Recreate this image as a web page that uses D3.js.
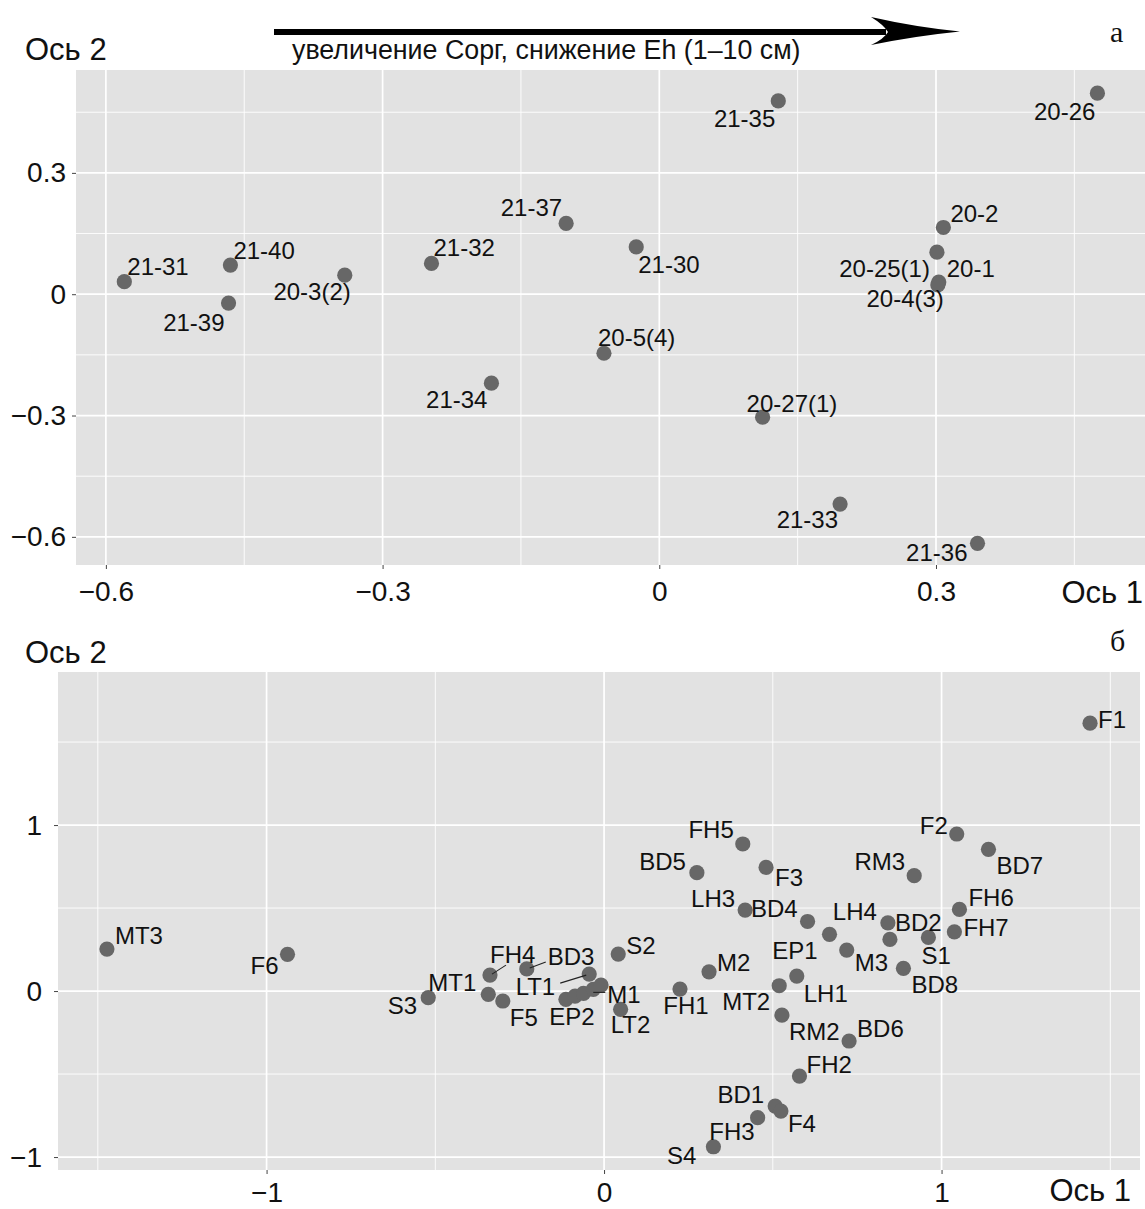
<!DOCTYPE html>
<html><head><meta charset="utf-8">
<script src="https://cdn.jsdelivr.net/npm/d3@7"></script>
<style>
html,body{margin:0;padding:0;background:#fff;}
svg{display:block;font-family:"Liberation Sans",Arial,sans-serif;}
</style></head>
<body>
<svg id="chart" width="1145" height="1209"></svg>
<script>
// ---------- DATA: panel a ----------
const topNames = ["21-35","20-26","21-37","20-2","21-40","21-32","21-31","20-3(2)","21-30","20-25(1)","20-1","21-39","20-4(3)","20-5(4)","21-34","20-27(1)","21-33","21-36"];
const topAxis1 = [0.129,0.475,-0.101,0.308,-0.465,-0.247,-0.580,-0.341,-0.025,0.301,0.303,-0.467,0.302,-0.060,-0.182,0.112,0.196,0.345];
const topAxis2 = [0.478,0.497,0.175,0.165,0.072,0.076,0.031,0.047,0.117,0.104,0.030,-0.022,0.023,-0.146,-0.220,-0.304,-0.519,-0.616];
const topXTicks = [-0.6,-0.3,0,0.3];
const topXMinor = [-0.45,-0.15,0.15,0.45];
const topYTicks = [-0.6,-0.3,0,0.3];
const topYMinor = [-0.45,-0.15,0.15,0.45];

// ---------- DATA: panel б ----------
const botNames = ["F1","FH5","F2","BD5","F3","BD7","RM3","LH3","BD4","EP1","M3","LH4","BD2","S1","FH7","FH6","BD8","MT3","F6","S2","M2","FH1","LH1","MT2","RM2","BD6","FH2","BD1","F4","FH3","S4","S3","MT1","FH4","F5","BD3","LT1","EP2","","","M1","","LT2"];
const botAxis1 = [1.440,0.411,1.045,0.275,0.480,1.139,0.919,0.418,0.603,0.668,0.719,0.841,0.847,0.961,1.038,1.053,0.887,-1.473,-0.938,0.042,0.311,0.225,0.571,0.519,0.527,0.726,0.579,0.507,0.524,0.455,0.324,-0.521,-0.343,-0.338,-0.300,-0.229,-0.044,-0.113,-0.086,-0.061,-0.032,-0.009,0.049];
const botAxis2 = [1.614,0.886,0.946,0.713,0.745,0.854,0.695,0.488,0.419,0.342,0.247,0.411,0.311,0.323,0.357,0.492,0.137,0.253,0.221,0.223,0.116,0.012,0.090,0.032,-0.145,-0.301,-0.512,-0.693,-0.723,-0.763,-0.938,-0.040,-0.020,0.096,-0.060,0.133,0.102,-0.050,-0.030,-0.014,0.010,0.036,-0.110];
const botXTicks = [-1,0,1];
const botXMinor = [-1.5,-0.5,0.5,1.5];
const botYTicks = [-1,0,1];
const botYMinor = [-0.5,0.5,1.5];

// ---------- label placement (repel-like offsets, px) ----------
const topLabelPos = {
 "21-35":[-3,26,"end"],"20-26":[-2,27,"end"],"21-37":[-4,-7,"end"],"20-2":[7,-5,"start"],
 "21-40":[3,-6,"start"],"21-32":[2,-7,"start"],"21-31":[3,-7,"start"],"20-3(2)":[6,25,"end"],
 "21-30":[2,26,"start"],"20-25(1)":[-7,25,"end"],"20-1":[8,-5,"start"],"21-39":[-4,28,"end"],
 "20-4(3)":[6,22,"end"],"20-5(4)":[-6,-7,"start"],"21-34":[-4,25,"end"],"20-27(1)":[-16,-5,"start"],
 "21-33":[-2,24,"end"],"21-36":[-10,18,"end"]
};
const botLabelPos = {
 "F1":[8,5,"start"],"FH5":[-9,-6,"end"],"F2":[-9,0,"end"],"BD5":[-11,-3,"end"],"F3":[9,19,"start"],
 "BD7":[8,25,"start"],"RM3":[-9,-6,"end"],"LH3":[-10,-3,"end"],"BD4":[-10,-4,"end"],"EP1":[-12,25,"end"],
 "M3":[8,21,"start"],"LH4":[-11,-3,"end"],"BD2":[5,-8,"start"],"S1":[-7,27,"start"],"FH7":[9,4,"start"],
 "FH6":[9,-3,"start"],"BD8":[8,25,"start"],"MT3":[8,-5,"start"],"F6":[-9,20,"end"],"S2":[8,0,"start"],
 "M2":[8,-1,"start"],"FH1":[6,25,"middle"],"LH1":[7,26,"start"],"MT2":[-9,24,"end"],"RM2":[7,25,"start"],
 "BD6":[8,-4,"start"],"FH2":[7,-3,"start"],"BD1":[-11,-3,"end"],"F4":[7,21,"start"],"FH3":[-3,22,"end"],
 "S4":[-17,17,"end"],"S3":[-11,16,"end"],"MT1":[-12,-3,"end"],"FH4":[0,-12,"start"],"F5":[7,25,"start"],
 "BD3":[21,-4,"start"],"LT1":[-34,21,"end"],"EP2":[6,26,"middle"],"M1":[14,14,"start"],"LT2":[10,24,"middle"]
};
const botSegments = {
 "FH4":[[2,-1],[16,-10]],"BD3":[[3,-1],[19,-7]],"LT1":[[-29,9],[-3,1]],"M1":[[0,3],[12,3]]
};

const svg = d3.select("#chart");
const fmt = d => d === 0 ? "0" : (Number.isInteger(d) ? d3.format("d")(d) : d3.format(".1f")(d));
const POINT = "#676767", PANEL = "#e2e2e2", TXT = "#111";

function panel(o){
  const x = d3.scaleLinear().domain(o.xDom).range([o.left, o.right]);
  const y = d3.scaleLinear().domain(o.yDom).range([o.bottom, o.top]);
  const g = svg.append("g");
  g.append("rect").attr("x",o.left).attr("y",o.top).attr("width",o.right-o.left).attr("height",o.bottom-o.top).attr("fill",PANEL);
  // minor grid
  g.selectAll(null).data(o.xMinor).join("line").attr("x1",d=>x(d)).attr("x2",d=>x(d)).attr("y1",o.top).attr("y2",o.bottom).attr("stroke","#fff").attr("stroke-width",0.9);
  g.selectAll(null).data(o.yMinor).join("line").attr("y1",d=>y(d)).attr("y2",d=>y(d)).attr("x1",o.left).attr("x2",o.right).attr("stroke","#fff").attr("stroke-width",0.9);
  // major grid
  g.selectAll(null).data(o.xTicks).join("line").attr("x1",d=>x(d)).attr("x2",d=>x(d)).attr("y1",o.top).attr("y2",o.bottom).attr("stroke","#fff").attr("stroke-width",1.7);
  g.selectAll(null).data(o.yTicks).join("line").attr("y1",d=>y(d)).attr("y2",d=>y(d)).attr("x1",o.left).attr("x2",o.right).attr("stroke","#fff").attr("stroke-width",1.7);
  // axes
  const xa = g.append("g").attr("transform",`translate(0,${o.bottom})`)
    .call(d3.axisBottom(x).tickValues(o.xTicks).tickFormat(fmt).tickSize(4).tickPadding(o.xPad));
  const ya = g.append("g").attr("transform",`translate(${o.left},0)`)
    .call(d3.axisLeft(y).tickValues(o.yTicks).tickFormat(fmt).tickSize(4).tickPadding(o.yPad));
  [xa,ya].forEach(a=>{
    a.select(".domain").remove();
    a.selectAll(".tick line").attr("stroke","#444").attr("stroke-width",1);
    a.selectAll(".tick text").attr("fill",TXT).attr("font-size",28).attr("font-family","Liberation Sans, Arial, sans-serif");
  });
  // axis titles
  g.append("text").attr("x",o.yTitleX).attr("y",o.yTitleY).attr("font-size",31).attr("fill",TXT).text("Ось 2");
  g.append("text").attr("x",o.xTitleX).attr("y",o.xTitleY).attr("text-anchor","end").attr("font-size",31).attr("fill",TXT).text("Ось 1");
  // panel letter
  g.append("text").attr("x",o.letterX).attr("y",o.letterY).attr("font-family","Liberation Serif, Times New Roman, serif").attr("font-size",30).attr("fill",TXT).text(o.letter);

  const pts = o.names.map((n,i)=>({name:n, a1:o.a1[i], a2:o.a2[i]}));
  g.selectAll(null).data(pts).join("circle")
    .attr("cx",d=>x(d.a1)).attr("cy",d=>y(d.a2)).attr("r",7.6).attr("fill",POINT);
  const segs = pts.filter(d=>o.segs && o.segs[d.name]);
  g.selectAll(null).data(segs).join("line")
    .attr("x1",d=>x(d.a1)+o.segs[d.name][0][0]).attr("y1",d=>y(d.a2)+o.segs[d.name][0][1])
    .attr("x2",d=>x(d.a1)+o.segs[d.name][1][0]).attr("y2",d=>y(d.a2)+o.segs[d.name][1][1])
    .attr("stroke","#222").attr("stroke-width",1.1);
  g.selectAll(null).data(pts.filter(d=>d.name && o.lab[d.name])).join("text")
    .attr("x",d=>x(d.a1)+o.lab[d.name][0]).attr("y",d=>y(d.a2)+o.lab[d.name][1])
    .attr("text-anchor",d=>o.lab[d.name][2])
    .attr("font-size",24).attr("fill",TXT).text(d=>d.name);
}

panel({names:topNames,a1:topAxis1,a2:topAxis2,lab:topLabelPos,
  xDom:[-0.6324,0.5266],yDom:[-0.6696,0.5544],left:76,right:1145,top:70,bottom:565,
  xTicks:topXTicks,xMinor:topXMinor,yTicks:topYTicks,yMinor:topYMinor,xPad:12,yPad:6,
  yTitleX:25,yTitleY:60,xTitleX:1143,xTitleY:603,letter:"а",letterX:1110,letterY:42});

panel({names:botNames,a1:botAxis1,a2:botAxis2,lab:botLabelPos,segs:botSegments,
  xDom:[-1.618,1.588],yDom:[-1.078,1.922],left:58,right:1140,top:672,bottom:1170,
  xTicks:botXTicks,xMinor:botXMinor,yTicks:botYTicks,yMinor:botYMinor,xPad:8,yPad:12,
  yTitleX:25,yTitleY:663,xTitleX:1131,xTitleY:1201,letter:"б",letterX:1110,letterY:651});

// arrow annotation
const ar = svg.append("g");
ar.append("rect").attr("x",274).attr("y",29).attr("width",612).attr("height",6).attr("fill","#000");
ar.append("path").attr("d","M960,31.5 Q915,27 871,17 Q884,25 888,32 Q884,39 871,45 Q915,36 960,31.5 Z").attr("fill","#000");
ar.append("text").attr("x",292).attr("y",59).attr("font-size",26.8).attr("fill",TXT).text("увеличение Сорг, снижение Eh (1–10 см)");
</script>
</body></html>
